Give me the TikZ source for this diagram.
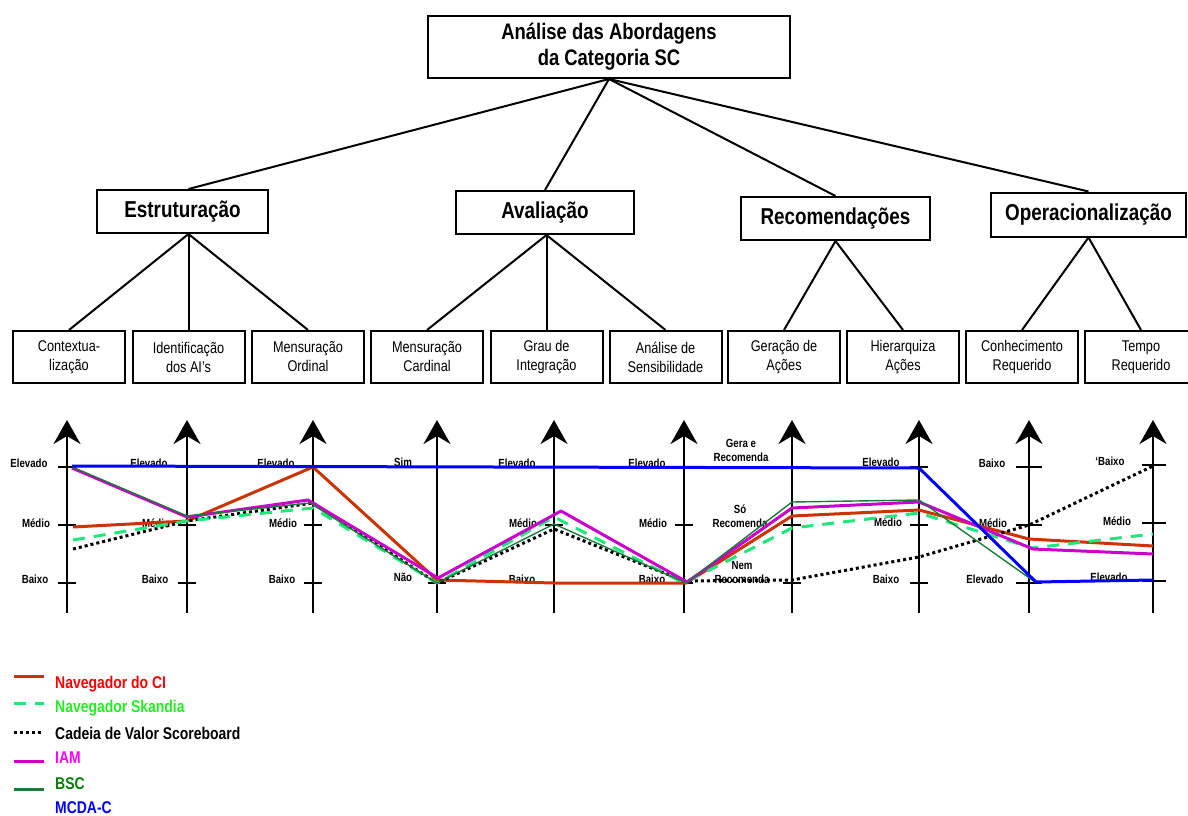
\documentclass[tikz,border=0pt]{standalone}
\usepackage{fontspec}
\setmainfont{Liberation Sans}[FakeStretch=0.82]
\usetikzlibrary{arrows.meta}

\definecolor{ciRed}{HTML}{CC3300}
\definecolor{skGreen}{HTML}{1EE87A}
\definecolor{iamMag}{HTML}{CC00CC}
\definecolor{bscGreen}{HTML}{1A7A3A}
\definecolor{mcdaBlue}{HTML}{0000FF}
\definecolor{txtRed}{HTML}{FF0000}
\definecolor{txtGreen}{HTML}{22EE22}
\definecolor{txtMag}{HTML}{FF00FF}
\definecolor{txtBsc}{HTML}{008000}
\definecolor{txtBlue}{HTML}{0000FF}

\tikzset{
  box/.style={draw, line width=2pt, inner sep=0pt, align=center},
  rootbox/.style={box, minimum width=362pt, minimum height=62pt,
    font=\bfseries\fontsize{22.5}{26}\selectfont},
  catbox/.style={box, minimum height=43pt,
    font=\bfseries\fontsize{23}{27}\selectfont},
  critbox/.style={box, minimum width=112pt, minimum height=52pt,
    font=\fontsize{15.5}{19}\selectfont},
  link/.style={line width=2pt},
  axisline/.style={line width=2.5pt, -{Stealth[length=24pt,width=27pt,inset=8pt]}},
  tickmark/.style={line width=2.5pt},
  lvl/.style={font=\bfseries\fontsize{11.8}{14}\selectfont, inner sep=0pt, align=center},
  legtxt/.style={font=\bfseries\fontsize{17}{20}\selectfont, anchor=west, inner sep=0pt},
  ciline/.style={ciRed, line width=3pt, line join=round},
  skline/.style={skGreen, line width=3pt, dash pattern=on 12pt off 9pt, line join=round},
  cvline/.style={black, line width=3pt, dash pattern=on 3pt off 3pt, line join=round},
  iamline/.style={iamMag, line width=3pt, line join=round},
  bscline/.style={bscGreen, line width=1.4pt, line join=round},
  mcdaline/.style={mcdaBlue, line width=3pt, line join=round},
}

\begin{document}
\begin{tikzpicture}[x=1pt, y=-1pt]
\useasboundingbox (0,0) rectangle (1188,816);

% ---- tree of criteria ----
\node[rootbox] (root) at (609,47) {Análise das Abordagens\\da Categoria SC};

\node[catbox, minimum width=171pt] (estr) at (182.5,211.5) {Estruturação};
\node[catbox, minimum width=178pt] (aval) at (545,212.5) {Avaliação};
\node[catbox, minimum width=189pt] (reco) at (835.5,218.5) {Recomendações};
\node[catbox, minimum width=195pt, minimum height=44pt] (oper) at (1088.5,214.5) {Operacionalização};

\node[critbox] (ctx) at (69,357)   {Contextua-\\lização};
\node[critbox] (ida) at (188.5,357)  {Identificação\\dos AI’s};
\node[critbox] (mor) at (308,357)  {Mensuração\\Ordinal};
\node[critbox] (mca) at (427,357)  {Mensuração\\Cardinal};
\node[critbox] (gin) at (546.5,357)  {Grau de\\Integração};
\node[critbox] (ans) at (665.5,357)  {Análise de\\Sensibilidade};
\node[critbox] (gac) at (784,357)  {Geração de\\Ações};
\node[critbox] (hac) at (903,357)  {Hierarquiza\\Ações};
\node[critbox] (cre) at (1022,357) {Conhecimento\\Requerido};
\node[critbox] (tre) at (1141,357) {Tempo\\Requerido};

\draw[link] (root.south) -- (estr.north -| ida.north);
\draw[link] (root.south) -- (aval.north);
\draw[link] (root.south) -- (reco.north);
\draw[link] (root.south) -- (oper.north);

\draw[link] (estr.south -| ida.north) -- (ctx.north);
\draw[link] (estr.south -| ida.north) -- (ida.north);
\draw[link] (estr.south -| ida.north) -- (mor.north);
\draw[link] (aval.south -| gin.north) -- (mca.north);
\draw[link] (aval.south -| gin.north) -- (gin.north);
\draw[link] (aval.south -| gin.north) -- (ans.north);
\draw[link] (reco.south) -- (gac.north);
\draw[link] (reco.south) -- (hac.north);
\draw[link] (oper.south) -- (cre.north);
\draw[link] (oper.south) -- (tre.north);

% ---- parallel axes ----
\foreach \i/\x in {1/67, 2/187, 3/313, 4/437, 5/554, 6/684, 7/792, 8/919, 9/1029, 10/1153} {
  \coordinate (b\i) at (\x,613);
  \coordinate (t\i) at (\x,420);
  \draw[axisline] (b\i) -- (t\i);
}

% tick marks (three levels, two on the yes/no axis)
\foreach \x in {67, 187, 313, 554, 684, 792, 919}
  \foreach \y in {467, 525, 583}
    \draw[tickmark] (\x-9,\y) -- (\x+9,\y);
\foreach \y in {467, 583} \draw[tickmark] (428,\y) -- (446,\y);
\foreach \y in {467, 525, 583} \draw[tickmark] (1016,\y) -- (1042,\y);
\foreach \y in {465, 523, 581} \draw[tickmark] (1142,\y) -- (1166,\y);

% level labels
\foreach \x/\d in {29/0, 149/0, 276/0, 517/0, 647/0, 881/-1} {
  \node[lvl] at (\x,463+\d) {Elevado};
}
\foreach \x/\d in {36/0, 156/0, 283/0, 523/0, 653/0, 888/-1, 993/0, 1117/-2} {
  \node[lvl] at (\x,523+\d) {Médio};
}
\foreach \x/\d in {35/0, 155/0, 282/0, 522/0, 652/0, 886/0} {
  \node[lvl] at (\x,579+\d) {Baixo};
}
\node[lvl] at (403,462) {Sim};
\node[lvl] at (403,577) {Não};
\node[lvl] at (741,450) {Gera e\\Recomenda};
\node[lvl] at (740,516) {Só\\Recomenda};
\node[lvl] at (742,572) {Nem\\Recomenda};
\node[lvl] at (992,463) {Baixo};
\node[lvl] at (985,579) {Elevado};
\node[lvl] at (1110,461) {`Baixo};
\node[lvl] at (1109,577) {Elevado};

% ---- profiles of the approaches ----
\draw[ciline] (73,527) -- (187,521) -- (313,467) -- (437,580) -- (554,583)
  -- (686,583) -- (792,516) -- (919,510) -- (1029,539) -- (1153,546);
\draw[cvline] (73,549) -- (187,521) -- (313,503) -- (437,583) -- (554,529)
  -- (684,581) -- (792,580) -- (919,557) -- (1029,525) -- (1153,466);
\draw[skline] (73,540) -- (187,521) -- (313,508) -- (437,583) -- (554,517)
  -- (684,583) -- (792,528) -- (919,513) -- (1032,548) -- (1153,534);
\draw[iamline] (72,468) -- (187,517) -- (308,500) -- (438,578) -- (561,511)
  -- (687,582) -- (792,508) -- (919,502) -- (1033,549) -- (1153,554);
\draw[bscline] (72,467) -- (187,516) -- (310,503) -- (437,583) -- (554,524)
  -- (686,583) -- (792,502) -- (919,500) -- (1035,582) -- (1153,580);
\draw[mcdaline] (72,466) -- (919,468) -- (1036,582) -- (1153,580);

% ---- legend ----
\draw[ciline] (14,676) -- (44,676);
\draw[skline] (14,703) -- (44,703);
\draw[cvline] (14,732) -- (44,732);
\draw[iamline] (14,761) -- (44,761);
\draw[bscline, line width=3pt] (14,789) -- (44,789);
\node[legtxt, text=txtRed]   (lg1) at (55,684) {Navegador do CI};
\node[legtxt, text=txtGreen] (lg2) at (55,708) {Navegador Skandia};
\node[legtxt, text=black]    (lg3) at (55,733) {Cadeia de Valor Scoreboard};
\node[legtxt, text=txtMag]   (lg4) at (55,758) {IAM};
\node[legtxt, text=txtBsc]   (lg5) at (55,784) {BSC};
\node[legtxt, text=txtBlue]  (lg6) at (55,808) {MCDA-C};
\end{tikzpicture}
\end{document}
